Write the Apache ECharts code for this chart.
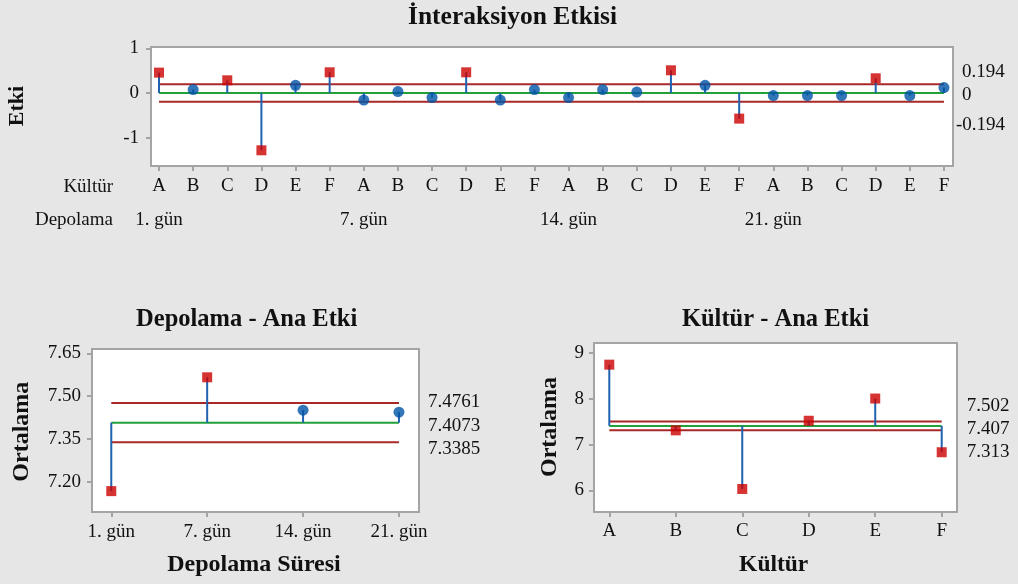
<!DOCTYPE html>
<html>
<head>
<meta charset="utf-8">
<script src="https://cdn.jsdelivr.net/npm/echarts@6/dist/echarts.min.js"></script>
<style>
html,body{margin:0;padding:0;background:#e6e6e6;}
#chart{width:1018px;height:584px;}
</style>
</head>
<body>
<div id="chart"></div>
<script>
// ---------- data ----------
const cultures = ['A', 'B', 'C', 'D', 'E', 'F'];
const storageDays = ['1. gün', '7. gün', '14. gün', '21. gün'];
// interaction effects, order: day x culture
const interactionEffects = [
  0.456, 0.076, 0.284, -1.282, 0.172, 0.463,
  -0.157, 0.031, -0.103, 0.463, -0.157, 0.076,
  -0.103, 0.076, 0.022, 0.508, 0.172, -0.573,
  -0.058, -0.058, -0.058, 0.329, -0.058, 0.121
];
const interactionLimits = [0.194, 0, -0.194];   // UDL, center, LDL
const interactionTicks = [-1, 0, 1];
const storageMeans = [7.168, 7.566, 7.451, 7.444];
const storageLimits = [7.4761, 7.4073, 7.3385];
const storageTicks = [7.20, 7.35, 7.50, 7.65];
const cultureMeans = [8.745, 7.31, 6.03, 7.52, 8.005, 6.832];
const cultureLimits = [7.502, 7.407, 7.313];
const cultureTicks = [6, 7, 8, 9];

// ---------- style ----------
const FONT = 'Liberation Serif';
const RED = '#cc0000', BLUE = '#0054a6', STEM = '#1f62b0';
const LIMIT = '#a82828', CENTER = '#22a03a', FRAME = '#a4a4a4';

const chart = echarts.init(document.getElementById('chart'), null, {renderer: 'canvas'});

const grids = [
  {left: 151, top: 47, width: 802, height: 119},
  {left: 92, top: 349, width: 327, height: 163},
  {left: 594, top: 343, width: 363, height: 169}
].map(g => Object.assign(g, {show: true, backgroundColor: '#ffffff', borderColor: FRAME, borderWidth: 2}));

const interCats = [];
storageDays.forEach(() => cultures.forEach(c => interCats.push(c)));
const idx = arr => arr.map((_, i) => i);

function xAxis(gi, min, max, labels, margin) {
  return {
    type: 'value', gridIndex: gi, min: min, max: max, position: 'bottom',
    axisLine: {show: false, onZero: false},
    splitLine: {show: false},
    axisTick: {show: true, inside: false, length: 5, lineStyle: {color: FRAME, width: 2}, customValues: idx(labels)},
    axisLabel: {
      show: true, margin: margin, customValues: idx(labels),
      formatter: v => labels[Math.round(v)],
      fontFamily: FONT, fontSize: 19, color: '#111'
    }
  };
}
function yAxis(gi, min, max, ticks, fmt, margin) {
  return {
    type: 'value', gridIndex: gi, min: min, max: max, position: 'left',
    axisLine: {show: false, onZero: false},
    splitLine: {show: false},
    axisTick: {show: true, inside: false, length: 5, lineStyle: {color: FRAME, width: 2}, customValues: ticks},
    axisLabel: {show: true, margin: margin, customValues: ticks, formatter: fmt, fontFamily: FONT, fontSize: 19, color: '#111'}
  };
}

const xAxes = [
  xAxis(0, -0.235, 23.265, interCats, 11),
  xAxis(1, -0.201, 3.209, storageDays, 11),
  xAxis(2, -0.23, 5.23, cultures, 10),
  // second label row of the interaction chart: storage day groups
  {
    type: 'value', gridIndex: 0, min: -0.235, max: 23.265, position: 'bottom', offset: 0,
    axisLine: {show: false, onZero: false}, splitLine: {show: false}, axisTick: {show: false},
    axisLabel: {
      show: true, margin: 45, customValues: storageDays.map((_, i) => i * cultures.length),
      formatter: v => storageDays[Math.round(v / cultures.length)],
      fontFamily: FONT, fontSize: 19, color: '#111'
    }
  }
];
const yAxes = [
  yAxis(0, -1.633, 1.029, interactionTicks, v => String(v), 12),
  yAxis(1, 7.095, 7.665, storageTicks, v => v.toFixed(2), 11),
  yAxis(2, 5.527, 9.218, cultureTicks, v => String(v), 10)
];

const series = [];
function addChart(gi, values, limits, labelDx, labelDy) {
  const n = values.length;
  const center = limits[1];
  limits.forEach((L, k) => {
    series.push({
      type: 'line', xAxisIndex: gi, yAxisIndex: gi, silent: true,
      data: [[0, L], [n - 1, L]], symbol: 'none', z: k === 1 ? 3 : 2,
      lineStyle: {color: k === 1 ? CENTER : LIMIT, width: 2},
      endLabel: {
        show: true, formatter: () => String(L), align: 'left', verticalAlign: 'middle',
        distance: 0,
        offset: [labelDx - (String(L).charAt(0) === '-' ? 6 : 0), labelDy[k]],
        fontFamily: FONT, fontSize: 19, color: '#111'
      }
    });
  });
  series.push({
    type: 'custom', xAxisIndex: gi, yAxisIndex: gi, silent: true, z: 4,
    data: values.map((v, i) => [i, v]),
    renderItem: (params, api) => {
      const p0 = api.coord([api.value(0), center]);
      const p1 = api.coord([api.value(0), api.value(1)]);
      return {type: 'line', shape: {x1: p0[0], y1: p0[1], x2: p1[0], y2: p1[1]}, style: {stroke: STEM, lineWidth: 2}};
    }
  });
  series.push({
    type: 'scatter', xAxisIndex: gi, yAxisIndex: gi, silent: true, z: 5,
    data: values.map((v, i) => {
      const out = v > limits[0] || v < limits[2];
      return {value: [i, v], symbol: out ? 'rect' : 'circle', symbolSize: out ? 10 : 11,
              itemStyle: {color: out ? RED : BLUE}};
    })
  });
}
addChart(0, interactionEffects, interactionLimits, 18, [-12, 2, 23]);
addChart(1, storageMeans, storageLimits, 29, [-1.3, 3.3, 6.6]);
addChart(2, cultureMeans, cultureLimits, 25, [-15.6, 3.4, 21.5]);

function txt(x, y, text, size, opts) {
  return {type: 'text', x: x, y: y, rotation: (opts && opts.rot) || 0, silent: true,
    style: {text: text, fontFamily: FONT, fontSize: size, fontWeight: (opts && opts.bold) ? 'bold' : 'normal',
      fill: '#111', align: (opts && opts.align) || 'center', verticalAlign: 'middle'}};
}

const graphics = [
  txt(512.5, 17, 'İnteraksiyon Etkisi', 25.5, {bold: true}),
  txt(246.7, 320, 'Depolama - Ana Etki', 24.5, {bold: true}),
  txt(775.5, 320, 'Kültür - Ana Etki', 24.5, {bold: true}),
  txt(17, 106, 'Etki', 22, {bold: true, rot: Math.PI / 2}),
  txt(22, 431.7, 'Ortalama', 24, {bold: true, rot: Math.PI / 2}),
  txt(549.3, 427, 'Ortalama', 24, {bold: true, rot: Math.PI / 2}),
  txt(254, 565, 'Depolama Süresi', 24, {bold: true}),
  txt(773.7, 565, 'Kültür', 23.5, {bold: true}),
  txt(113, 187.5, 'Kültür', 19, {align: 'right'}),
  txt(113, 220, 'Depolama', 19, {align: 'right'})
];

chart.setOption({
  backgroundColor: '#e6e6e6',
  animation: false,
  grid: grids,
  xAxis: xAxes,
  yAxis: yAxes,
  series: series,
  graphic: graphics
});
</script>
</body>
</html>
